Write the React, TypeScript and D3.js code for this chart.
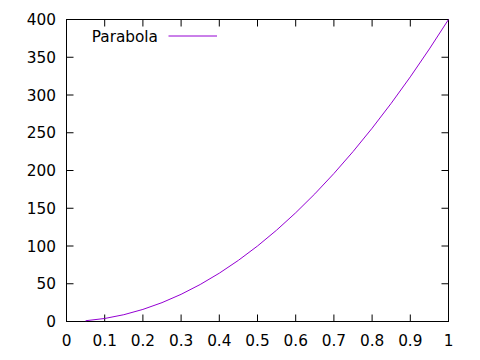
import React from "react";
import * as d3 from "d3";

const xValues = [0.05, 0.1, 0.15, 0.2, 0.25, 0.3, 0.35, 0.4, 0.45, 0.5, 0.55, 0.6, 0.65, 0.7, 0.75, 0.8, 0.85, 0.9, 0.95, 1.0];
const yValues = [1, 4, 9, 16, 25, 36, 49, 64, 81, 100, 121, 144, 169, 196, 225, 256, 289, 324, 361, 400];
const xTicks = [0, 0.1, 0.2, 0.3, 0.4, 0.5, 0.6, 0.7, 0.8, 0.9, 1];
const yTicks = [0, 50, 100, 150, 200, 250, 300, 350, 400];
const seriesName = "Parabola";

const W = 480, H = 360;
const L = 66.5, R = 448.5, T = 19.5, B = 321.5;
const font = "'DejaVu Sans', sans-serif";
const fs = 15.3;
const color = "#9400d3";

export default function App() {
  const x = d3.scaleLinear().domain([0, 1]).range([L, R]);
  const y = d3.scaleLinear().domain([0, 400]).range([B, T]);
  const line = d3.line<number>().x((_, i) => x(xValues[i])).y((d) => y(d));
  const tk = 7;
  return (
    <svg width={W} height={H} style={{ position: "absolute", left: 0, top: 0, background: "#fff" }}>
      <rect x={L} y={T} width={R - L} height={B - T} fill="none" stroke="#000" strokeWidth={1} />
      {xTicks.map((t) => (
        <g key={"x" + t}>
          <line x1={x(t)} x2={x(t)} y1={B} y2={B - tk} stroke="#000" />
          <line x1={x(t)} x2={x(t)} y1={T} y2={T + tk} stroke="#000" />
          <text x={x(t)} y={346} textAnchor="middle" fontFamily={font} fontSize={fs} fill="#000">
            {String(t)}
          </text>
        </g>
      ))}
      {yTicks.map((t) => (
        <g key={"y" + t}>
          <line x1={L} x2={L + tk} y1={y(t)} y2={y(t)} stroke="#000" />
          <line x1={R} x2={R - tk} y1={y(t)} y2={y(t)} stroke="#000" />
          <text x={56} y={y(t) + 5.5} textAnchor="end" fontFamily={font} fontSize={fs} fill="#000">
            {String(t)}
          </text>
        </g>
      ))}
      <path d={line(yValues) || ""} fill="none" stroke={color} strokeWidth={1} />
      <text x={158} y={42} textAnchor="end" fontFamily={font} fontSize={fs} fill="#000">
        {seriesName}
      </text>
      <line x1={168.5} x2={217} y1={36} y2={36} stroke={color} strokeWidth={1} />
    </svg>
  );
}
